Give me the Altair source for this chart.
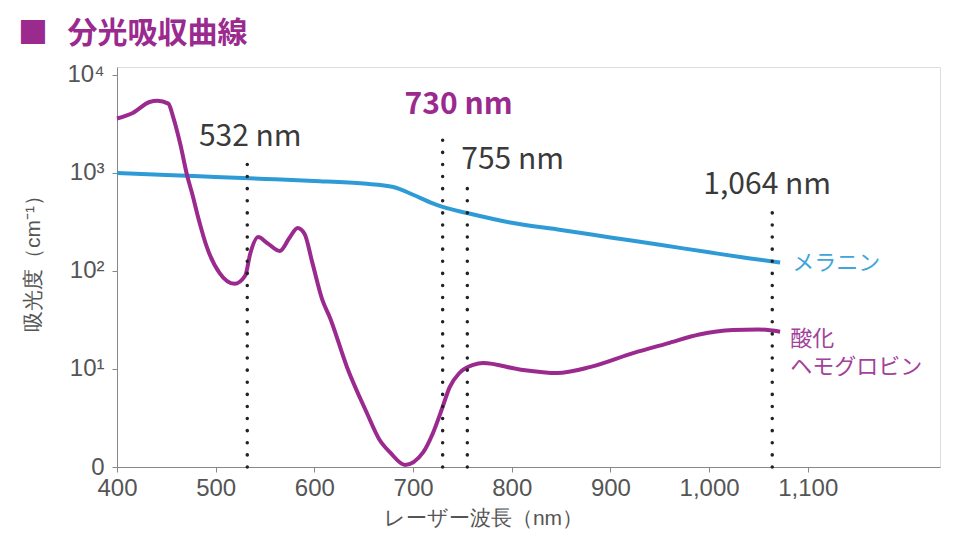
import altair as alt
import pandas as pd

# --- data ---
mel_wl = [400, 450, 500, 550, 600, 650, 680, 700, 720, 730, 755, 800, 850, 900, 950, 1000, 1040, 1072]
mel_val = [1000, 955, 910, 870, 830, 780, 720, 600, 490, 450, 390, 310, 262, 220, 185, 155, 135, 122]

hb_wl = [400, 416, 433, 441, 452, 457, 464, 471, 476, 483, 491, 504, 519, 530, 535, 543, 553, 565, 575,
         583, 590, 598, 608, 616, 633, 653, 666, 677, 692, 710, 720, 730, 737, 747, 761,
         771, 808, 846, 880, 923, 960, 990, 1024, 1050, 1072]
hb_val = [3600, 4100, 5300, 5450, 5100, 3700, 2000, 950, 625, 330, 176, 95, 74, 90, 150, 222, 190, 160, 220,
          275, 240, 121, 51, 33, 10.5, 3.6, 1.9, 1.4, 1.05, 1.4, 2.2, 4.1, 6.5, 9.1, 11,
          11.5, 9.9, 9.1, 10.5, 14.5, 18.5, 22.5, 25, 25.3, 24]

laser_wl = [532, 730, 755, 1064]
laser_top = [1236, 2443, 703, 430]

x_ticks = [400, 500, 600, 700, 800, 900, 1000, 1100]
y_ticks = [1, 10, 100, 1000, 10000]
y_tick_labels = ["0", "10¹", "10²", "10³", "10⁴"]

PURPLE = "#9b2a8f"
BLUE = "#2e9bd6"
GRAY = "#9a9a9a"
FONT = "Noto Sans CJK JP"

mel = pd.DataFrame({"wl": mel_wl, "v": mel_val})
hb = pd.DataFrame({"wl": hb_wl, "v": hb_val})
rules = pd.DataFrame({"wl": laser_wl, "top": laser_top, "bottom": [1] * len(laser_wl)})

label_expr = " : ".join(
    [f"datum.value == {v} ? '{l}'" for v, l in zip(y_ticks[:-1], y_tick_labels[:-1])]
) + f" : '{y_tick_labels[-1]}'"

xscale = alt.Scale(domain=[400, 1234], nice=False, zero=False)
yscale = alt.Scale(type="log", domain=[1, 12064], nice=False)

xaxis = alt.Axis(values=x_ticks, format=",d", title="レーザー波長（nm）", grid=False,
                 labelFontSize=24, titleFontSize=21, labelPadding=4, labelFlush=False,
                 titleX=366, titleY=51, titleAlign="center", titleBaseline="middle",
                 titleFontWeight="normal", titleColor="#555", labelColor="#555")
yaxis = alt.Axis(values=y_ticks, labelExpr=label_expr, title="吸光度（cm⁻¹）", grid=False,
                 labelFontSize=24, titleFontSize=21, labelPadding=8, labelFlush=False,
                 titleX=-84, titleY=191, titleAngle=-90, titleAlign="center", titleBaseline="middle",
                 titleFontWeight="normal", titleColor="#555", labelColor="#555")

x = alt.X("wl:Q", scale=xscale, axis=xaxis)
y = alt.Y("v:Q", scale=yscale, axis=yaxis)

mel_line = alt.Chart(mel).mark_line(color=BLUE, strokeWidth=4, interpolate="monotone").encode(x=x, y=y)
hb_line = alt.Chart(hb).mark_line(color=PURPLE, strokeWidth=4, interpolate="monotone").encode(x=x, y=y)

dots = alt.Chart(rules).mark_rule(color="#222", strokeWidth=3.5, strokeDash=[0.1, 12], strokeCap="round").encode(
    x=alt.X("wl:Q", scale=xscale),
    y=alt.Y("bottom:Q", scale=yscale),
    y2="top:Q",
)


def ann(wl, yv, text, color="#3a3a3a", dx=0, bold=False, align="center", size=30):
    return alt.Chart(pd.DataFrame({"wl": [wl]})).mark_text(
        text=text, color=color, fontSize=size, font=FONT, align=align, baseline="middle",
        dx=dx, fontWeight="bold" if bold else "normal",
    ).encode(x=alt.X("wl:Q", scale=xscale), y=alt.datum(yv, scale=yscale))


texts = [
    ann(laser_wl[0], 2330, "532 nm", dx=3),
    ann(laser_wl[1], 4940, "730 nm", color=PURPLE, dx=16, bold=True),
    ann(laser_wl[2], 1358, "755 nm", dx=-6, align="left"),
    ann(laser_wl[3], 755, "1,064 nm", dx=-5),
    ann(mel_wl[-1], mel_val[-1], "メラニン", color="#3fa6dc", dx=12, align="left", size=22),
    alt.Chart(pd.DataFrame({"wl": [hb_wl[-1]]})).mark_text(
        text=["酸化", "ヘモグロビン"], color="#a2429a", fontSize=22, font=FONT, align="left",
        baseline="middle", dx=10, lineHeight=28,
    ).encode(x=alt.X("wl:Q", scale=xscale), y=alt.datum(hb_val[-1] * 0.85, scale=yscale)),
]

chart = alt.layer(mel_line, hb_line, dots, *texts).properties(
    width=823, height=400,
    title=alt.Title(text="■\u00a0\u00a0\u2009分光吸収曲線", anchor="start", frame="group", dx=-99, dy=-10,
                    font=FONT, fontSize=30, color=PURPLE, fontWeight="bold"),
    autosize="none",
    padding={"left": 117, "top": 67, "right": 16, "bottom": 93},
).configure_view(stroke=GRAY, strokeWidth=2).configure_axis(
    domainColor=GRAY, domainWidth=2, tickColor=GRAY, tickWidth=2, tickSize=7,
    labelFont=FONT, titleFont=FONT,
).configure(background="white")

chart.save("out.html", embed_options={"renderer": "svg", "actions": False})
